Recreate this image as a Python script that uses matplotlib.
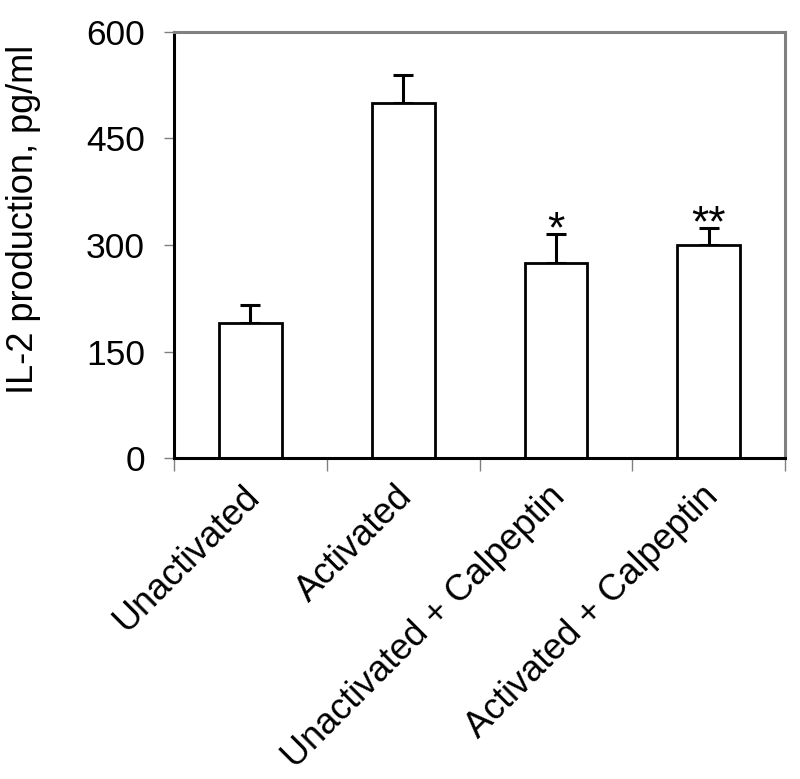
import numpy as np
import matplotlib.pyplot as plt

plt.rcParams['font.family'] = ['Liberation Sans', 'DejaVu Sans']

categories = ["Unactivated", "Activated", "Unactivated + Calpeptin", "Activated + Calpeptin"]
il2 = [190, 500, 275, 300]
err = [25, 40, 40, 24]
marks = ["", "", "*", "**"]

fig = plt.figure(figsize=(8, 7.79), dpi=100)
ax = fig.add_axes([0.2175, 0.412, 0.764, 0.547])

x = np.arange(len(categories)) + 0.5
ax.bar(x, il2, width=0.41, color="white", edgecolor="black", linewidth=2, zorder=2)
ax.errorbar(x, il2, yerr=[np.zeros(len(err)), err], fmt="none", ecolor="black",
            elinewidth=2.2, capsize=7.5, capthick=2.2, zorder=1)

# significance stars above the error bars
for xi, v, e, m in zip(x, il2, err, marks):
    if m:
        ax.annotate(m, xy=(xi, v + e), xytext=(0, -6), textcoords="offset points",
                    ha="center", va="baseline", fontsize=32)

ax.set_xlim(0, 4)
ax.set_ylim(0, 600)
ax.set_yticks([0, 150, 300, 450, 600])
ax.tick_params(axis="y", labelsize=25.5, direction="out", length=7, width=1, color="gray", pad=14)
ax.set_xticks([0, 1, 2, 3, 4])
ax.set_xticklabels([])
ax.tick_params(axis="x", direction="out", length=9.5, width=1, color="gray")

for xi, lab in zip(x, categories):
    ax.annotate(lab, xy=(xi, 0), xytext=(3, -24), textcoords="offset points",
                rotation=45, ha="right", va="center", rotation_mode="anchor", fontsize=26)

ax.set_ylabel("IL-2 production, pg/ml", fontsize=26)
ax.yaxis.set_label_coords(-0.217, 0.56)

ax.spines["left"].set_color("black")
ax.spines["left"].set_linewidth(2.2)
ax.spines["bottom"].set_color("black")
ax.spines["bottom"].set_linewidth(2.2)
ax.spines["top"].set_color("gray")
ax.spines["top"].set_linewidth(2.2)
ax.spines["right"].set_color("gray")
ax.spines["right"].set_linewidth(2.2)

fig.savefig("out.png", dpi=100)
